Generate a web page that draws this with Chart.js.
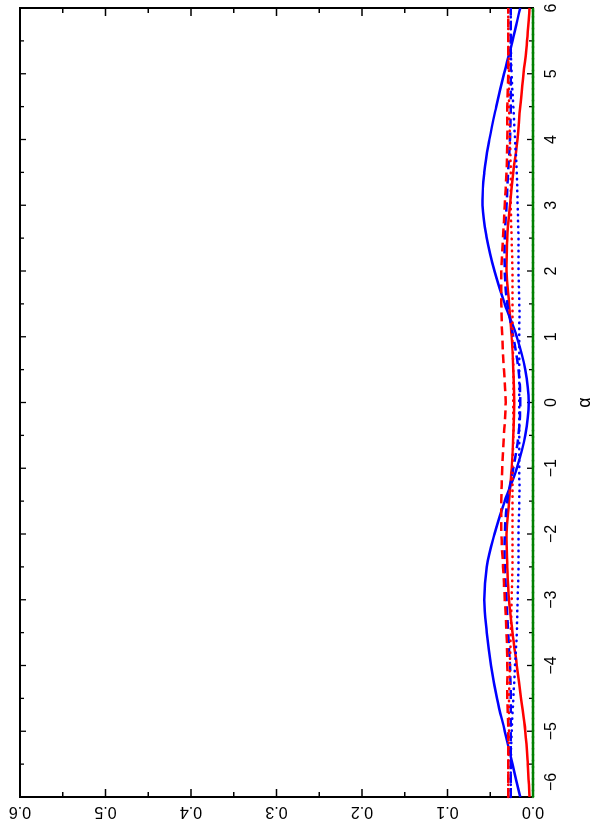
<!DOCTYPE html>
<html><head><meta charset="utf-8">
<script src="https://cdn.jsdelivr.net/npm/chart.js@4.4.1/dist/chart.umd.min.js"></script>
<style>
html,body{margin:0;padding:0;background:#fff;overflow:hidden;width:593px;height:830px;}
#wrap{position:absolute;left:0;top:0;width:830px;height:593px;transform-origin:0 0;transform:translate(0,830px) rotate(-90deg);}
</style></head><body>
<div id="wrap"><canvas id="c" width="830" height="593"></canvas></div>
<script>
const alpha = [-6,-5.5,-5,-4.5,-4,-3.5,-3,-2.5,-2,-1.5,-1,-0.5,0,0.5,1,1.5,2,2.5,3,3.5,4,4.5,5,5.5,6];
const blueSolid  = [0.015,0.024,0.033,0.042,0.049,0.054,0.057,0.054,0.045,0.033,0.019,0.009,0.005,0.009,0.019,0.033,0.045,0.054,0.059,0.057,0.051,0.043,0.034,0.024,0.015];
const blueDashed = [0.026,0.026,0.026,0.026,0.027,0.029,0.031,0.033,0.033,0.030,0.023,0.017,0.015,0.017,0.023,0.030,0.033,0.033,0.031,0.029,0.027,0.026,0.026,0.026,0.026];
const blueDotted = [0.026,0.026,0.025,0.023,0.021,0.019,0.018,0.017,0.017,0.016,0.016,0.016,0.016,0.016,0.016,0.016,0.017,0.017,0.018,0.019,0.021,0.023,0.025,0.026,0.026];
const redSolid   = [0.004,0.006,0.009,0.014,0.019,0.024,0.028,0.030,0.031,0.028,0.025,0.023,0.022,0.023,0.025,0.028,0.031,0.030,0.027,0.023,0.018,0.015,0.011,0.007,0.004];
const redDashed  = [0.029,0.029,0.029,0.030,0.030,0.031,0.033,0.035,0.037,0.037,0.036,0.034,0.032,0.034,0.036,0.037,0.037,0.035,0.033,0.031,0.030,0.030,0.029,0.029,0.029];
const redDotted  = [0.029,0.029,0.028,0.028,0.027,0.026,0.025,0.024,0.024,0.024,0.024,0.023,0.023,0.023,0.024,0.024,0.024,0.025,0.026,0.026,0.027,0.028,0.028,0.029,0.029];
const greenSolid = [0,0,0,0,0,0,0,0,0,0,0,0,0,0,0,0,0,0,0,0,0,0,0,0,0];
const greenDotted= [0,0,0,0,0,0,0,0,0,0,0,0,0,0,0,0,0,0,0,0,0,0,0,0,0];

const alphaTickValues = [-6,-5,-4,-3,-2,-1,0,1,2,3,4,5,6];
const alphaTickLabels = ['\u22126','\u22125','\u22124','\u22123','\u22122','\u22121','0','1','2','3','4','5','6'];
const valueTickValues = [0,0.1,0.2,0.3,0.4,0.5,0.6];
const valueTickLabels = ['0.0','0.1','0.2','0.3','0.4','0.5','0.6'];
const xTitle = '\u03b1';

function pts(arr){ return alpha.map((a,i)=>({x:a,y:arr[i]})); }
function ds(arr,color,style){
  const d = {data:pts(arr),borderColor:color,borderWidth:2.5,pointRadius:0,fill:false,
    tension:0.4,clip:6};
  if(style==='dash'){d.borderDash=[9,5];}
  if(style==='dot'){d.borderDash=[0.5,5.5];d.borderCapStyle='round';}
  return d;
}

const framePlugin = {
  id:'frame',
  beforeDatasetsDraw(chart){
    const ctx=chart.ctx, a=chart.chartArea, xs=chart.scales.x, ys=chart.scales.y;
    ctx.save();
    ctx.strokeStyle='#000';
    ctx.lineWidth=2;
    ctx.strokeRect(a.left,a.top,a.right-a.left,a.bottom-a.top);
    ctx.lineWidth=1.3;
    ctx.beginPath();
    for(let v=-6; v<=6.001; v+=0.5){
      const px=xs.getPixelForValue(v);
      const L = Math.abs(v-Math.round(v))<1e-6 ? 6 : 4;
      ctx.moveTo(px,a.bottom); ctx.lineTo(px,a.bottom-L);
      ctx.moveTo(px,a.top); ctx.lineTo(px,a.top+L);
    }
    for(let k=0;k<=12;k++){
      const v=k*0.05;
      const py=ys.getPixelForValue(v);
      const L = k%2===0 ? 8 : 5;
      ctx.moveTo(a.left,py); ctx.lineTo(a.left+L,py);
      ctx.moveTo(a.right,py); ctx.lineTo(a.right-L,py);
    }
    ctx.stroke();
    ctx.restore();
  },
  afterDraw(chart){
    const ctx=chart.ctx, a=chart.chartArea, xs=chart.scales.x, ys=chart.scales.y;
    ctx.save();
    ctx.fillStyle='#000';
    ctx.font='16px "Liberation Sans", Arial, sans-serif';
    ctx.textBaseline='middle';
    alphaTickValues.forEach((v,i)=>{
      const px=xs.getPixelForValue(v);
      if(i===0){ ctx.textAlign='left'; ctx.fillText(alphaTickLabels[i],a.left+6,552); }
      else { ctx.textAlign='center'; ctx.fillText(alphaTickLabels[i],px,552); }
    });
    valueTickValues.forEach((v,i)=>{
      const py=ys.getPixelForValue(v);
      ctx.save();
      ctx.translate(19,py);
      ctx.rotate(-Math.PI/2);
      ctx.textAlign='center';
      ctx.fillText(valueTickLabels[i],0,0);
      ctx.restore();
    });
    ctx.font='18px "Liberation Sans", Arial, sans-serif';
    ctx.textAlign='center';
    ctx.fillText(xTitle,(a.left+a.right)/2,585);
    ctx.restore();
  }
};

new Chart(document.getElementById('c'),{
  type:'line',
  data:{datasets:[
    ds(redDotted,'#ff0000','dot'),
    ds(blueDotted,'#0000ff','dot'),
    ds(redDashed,'#ff0000','dash'),
    ds(blueDashed,'#0000ff','dash'),
    ds(redSolid,'#ff0000','solid'),
    ds(blueSolid,'#0000ff','solid'),
    ds(greenSolid,'#008000','solid'),
    ds(greenDotted,'#2e8b2e','dot')
  ]},
  options:{
    responsive:false,animation:false,devicePixelRatio:1,
    layout:{padding:{left:33,right:8,top:20,bottom:60}},
    plugins:{legend:{display:false},tooltip:{enabled:false}},
    scales:{
      x:{type:'linear',min:-6,max:6,display:false},
      y:{type:'linear',min:0,max:0.6,display:false}
    }
  },
  plugins:[framePlugin]
});
</script>
</body></html>
